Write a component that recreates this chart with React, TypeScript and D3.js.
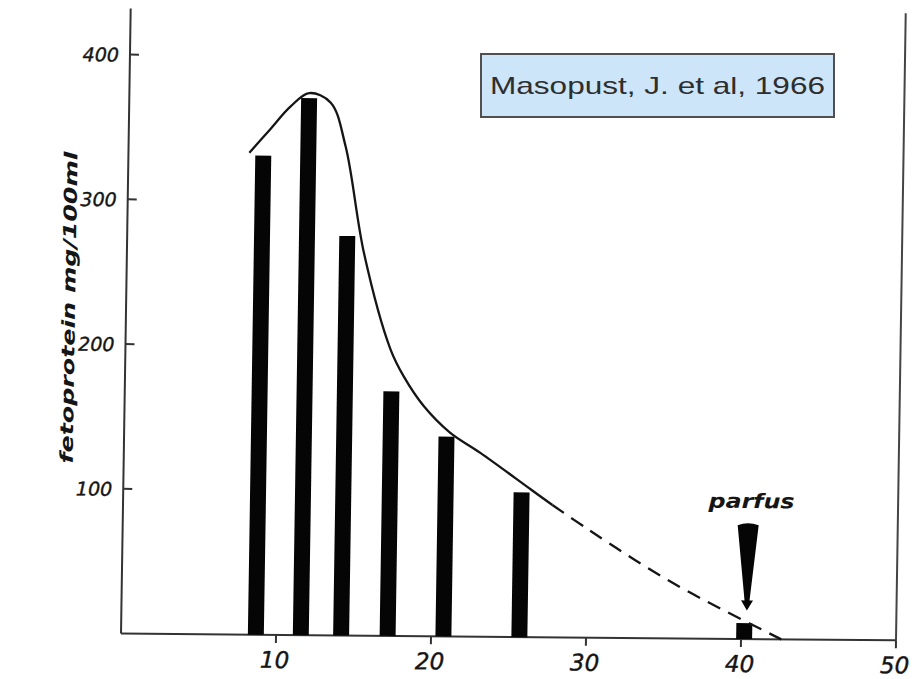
import { useEffect, useRef } from 'react';
import * as d3 from 'd3';

// bars: week of pregnancy and fetoprotein mg/100ml
const barWeeks = [8.7, 11.6, 14.2, 17.2, 20.8, 25.7, 40.2];
const barValues = [331, 371, 276, 169, 138, 100, 11];

// hand drawn solid curve
const curveWeeks = [7.8, 9.1, 10.4, 11.6, 13.0, 14.0, 15.3, 17.1, 18.0, 19.3, 21.0, 23.0, 26.3, 27.7];
const curveValues = [333, 349, 365, 374.5, 368, 338, 264, 198, 179, 159, 141, 127, 102, 91.4];

// dashed extrapolation down to the axis
const dashWeeks = [27.7, 30, 33, 36, 39, 42.6];
const dashValues = [91.4, 75, 54.5, 35.6, 19, 0];

const xTicks = [10, 20, 30, 40, 50];
const yTicks = [100, 200, 300, 400];

const partusWeek = 40.35;
const partusLabel = 'parfus';
const yTitle = 'fetoprotein  mg/100ml';
const sourceLabel = 'Masopust, J. et al, 1966';

export default function App() {
  const ref = useRef<SVGSVGElement>(null);

  useEffect(() => {
    const width = 924;
    const height = 679;
    const margin = { top: 58, right: 28, bottom: 42, left: 121 };
    const svg = d3.select(ref.current);
    svg.selectAll('*').remove();

    const x = d3.scaleLinear().domain([0, 50]).range([margin.left, width - margin.right]);
    const y = d3.scaleLinear().domain([0, 400]).range([height - margin.bottom, margin.top]);

    svg.append('rect').attr('width', width).attr('height', height).attr('fill', '#fff');

    // the scanned figure is slightly skewed
    const k1 = -0.0155;
    const k2 = 0.0087;
    const cx = 510;
    const cy = y(0);
    const g = svg.append('g')
      .attr('transform', `matrix(1, ${k2}, ${k1}, 1, ${-k1 * cy}, ${-k2 * cx})`);

    const ink = '#151515';

    // Ejes
    g.append('line')
      .attr('x1', x(0)).attr('x2', x(50))
      .attr('y1', y(0)).attr('y2', y(0))
      .attr('stroke', '#333').attr('stroke-width', 2);
    g.append('line')
      .attr('x1', x(0)).attr('x2', x(0))
      .attr('y1', y(0)).attr('y2', 12)
      .attr('stroke', '#333').attr('stroke-width', 2);
    g.append('line')
      .attr('x1', x(50)).attr('x2', x(50))
      .attr('y1', y(0)).attr('y2', 10)
      .attr('stroke', '#444').attr('stroke-width', 2);

    // x ticks + labels
    g.append('g')
      .selectAll('line')
      .data(xTicks)
      .join('line')
      .attr('x1', d => x(d)).attr('x2', d => x(d))
      .attr('y1', y(0)).attr('y2', y(0) + 8)
      .attr('stroke', '#333').attr('stroke-width', 2);
    g.append('g')
      .selectAll('text')
      .data(xTicks)
      .join('text')
      .attr('x', d => x(d) - 1)
      .attr('y', height - 9)
      .attr('text-anchor', 'middle')
      .attr('font-family', 'DejaVu Sans')
      .attr('font-style', 'italic')
      .attr('font-size', 23)
      .attr('fill', ink)
      .attr('stroke', ink)
      .attr('stroke-width', 0.4)
      .text(d => d);

    // y ticks + labels
    g.append('g')
      .selectAll('line')
      .data(yTicks)
      .join('line')
      .attr('x1', x(0)).attr('x2', x(0) + 9)
      .attr('y1', d => y(d)).attr('y2', d => y(d))
      .attr('stroke', '#333').attr('stroke-width', 2);
    g.append('g')
      .selectAll('text')
      .data(yTicks)
      .join('text')
      .attr('x', x(0) - 11)
      .attr('y', d => y(d) + 7)
      .attr('text-anchor', 'end')
      .attr('font-family', 'DejaVu Sans')
      .attr('font-style', 'italic')
      .attr('font-size', 19)
      .attr('fill', ink)
      .attr('stroke', ink)
      .attr('stroke-width', 0.4)
      .text(d => d);

    // y title
    g.append('text')
      .attr('transform', `translate(${x(0) - 51},${y(225)}) rotate(-90)`)
      .attr('text-anchor', 'middle')
      .attr('font-family', 'DejaVu Sans')
      .attr('font-style', 'italic')
      .attr('font-weight', 'bold')
      .attr('font-size', 18)
      .attr('textLength', 312)
      .attr('lengthAdjust', 'spacingAndGlyphs')
      .attr('fill', ink)
      .text(yTitle);

    // Barras
    const bw = x(1.03) - x(0);
    g.append('g')
      .selectAll('rect')
      .data(barWeeks.map((w, i) => ({ w, v: barValues[i] })))
      .join('rect')
      .attr('x', d => x(d.w) - bw / 2)
      .attr('y', d => y(d.v))
      .attr('width', bw)
      .attr('height', d => y(0) - y(d.v))
      .attr('fill', '#050505');

    // curves
    const line = d3.line<[number, number]>()
      .x(d => x(d[0]))
      .y(d => y(d[1]))
      .curve(d3.curveCatmullRom.alpha(0.5));
    g.append('path')
      .attr('d', line(curveWeeks.map((w, i) => [w, curveValues[i]]) as [number, number][]))
      .attr('fill', 'none')
      .attr('stroke', ink)
      .attr('stroke-width', 2.3);
    g.append('path')
      .attr('d', line(dashWeeks.map((w, i) => [w, dashValues[i]]) as [number, number][]))
      .attr('fill', 'none')
      .attr('stroke', ink)
      .attr('stroke-width', 2.3)
      .attr('stroke-dasharray', '14,9');

    // partus arrow
    const ax = x(partusWeek);
    const yTop = y(80);
    const yBase = y(26.7);
    const yTip = y(19.8);
    g.append('path')
      .attr('d', `M${ax - 10.5},${yTop + 2} Q${ax},${yTop - 2} ${ax + 10.5},${yTop + 2}`
        + ` L${ax + 2.5},${yBase} L${ax + 6},${yBase} L${ax},${yTip} L${ax - 6},${yBase} L${ax - 2.5},${yBase} Z`)
      .attr('fill', '#050505');
    g.append('text')
      .attr('x', ax + 3)
      .attr('y', y(90.5))
      .attr('text-anchor', 'middle')
      .attr('font-family', 'DejaVu Sans')
      .attr('font-style', 'italic')
      .attr('font-weight', 'bold')
      .attr('font-size', 20)
      .attr('textLength', 86)
      .attr('lengthAdjust', 'spacingAndGlyphs')
      .attr('fill', ink)
      .text(partusLabel);

    // source box
    svg.append('rect')
      .attr('x', 481).attr('y', 54)
      .attr('width', 353).attr('height', 63)
      .attr('fill', '#cde5f8')
      .attr('stroke', '#505050')
      .attr('stroke-width', 2);
    svg.append('text')
      .attr('x', 490)
      .attr('y', 94)
      .attr('font-family', 'Liberation Sans')
      .attr('font-size', 24)
      .attr('textLength', 335)
      .attr('lengthAdjust', 'spacingAndGlyphs')
      .attr('fill', '#2e2e2e')
      .text(sourceLabel);
  }, []);

  return (
    <svg
      ref={ref}
      width={924}
      height={679}
      style={{ position: 'absolute', left: 0, top: 0, display: 'block' }}
    />
  );
}
